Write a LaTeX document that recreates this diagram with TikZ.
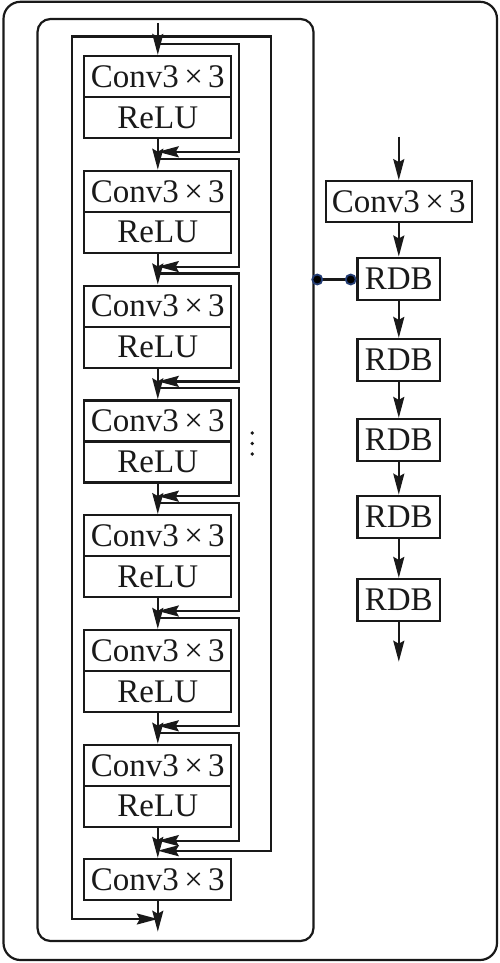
\documentclass[tikz,border=0pt]{standalone}
\usepackage{fontspec}
\setmainfont{Liberation Serif}
\usetikzlibrary{arrows.meta,calc}
\definecolor{ink}{RGB}{25,25,25}
\definecolor{navy}{RGB}{35,60,115}
\begin{document}
\begin{tikzpicture}[x=1pt,y=-1pt,
  >={Stealth[length=21pt,width=11pt,inset=3pt]},
  box/.style={draw=ink, line width=2.2pt, minimum height=41pt, inner sep=0pt,
    font=\fontsize{33}{36}\selectfont, text=ink},
  cbox/.style={box, minimum width=147pt},
  rdb/.style={box, minimum width=82.5pt, minimum height=42pt},
  wire/.style={draw=ink, line width=2.2pt},
  flow/.style={wire, ->},
  dotnode/.style={circle, fill=black, draw=navy, line width=1.8pt, minimum size=10pt, inner sep=0pt}]
\useasboundingbox (0,0) rectangle (500,963);

% frames
\draw[wire, rounded corners=17pt] (3.5,1.8) rectangle (497,960);
\draw[wire, rounded corners=13pt] (37.5,19) rectangle (313.5,941);

% left column blocks
\foreach \i in {1,...,7} {
  \pgfmathsetmacro\T{56+114.8*(\i-1)}
  \node[cbox] (c\i) at (157.8,\T+20.5) {Conv3\hspace{0.16em}×\hspace{0.16em}3};
  \node[cbox] (r\i) at (157.8,\T+61.5) {ReLU};
}
\node[cbox] (f) at (157.8,879.5) {Conv3\hspace{0.16em}×\hspace{0.16em}3};

% main flow
\coordinate (in) at (157.8,23);
\coordinate (out) at (157.8,931.7);
\draw[flow] (in) -- (c1.north);
\foreach \i [evaluate=\i as \j using int(\i+1)] in {1,...,6}
  \draw[flow] (r\i.south) -- (c\j.north);
\draw[flow] (r7.south) -- (f.north);
\draw[flow] (f.south) -- (out);

% local loops
\foreach \i in {1,...,7}
  \draw[flow] ([yshift=11pt]c\i.north) -- ([xshift=6.2pt,yshift=11pt]c\i.north east)
    -- ([xshift=6.2pt,yshift=-12.7pt]r\i.south east) -- ([yshift=-12.7pt]r\i.south);

% outer loops
\coordinate (tl) at (72,36.5);
\coordinate (tr) at (271,36.5);
\coordinate (jr) at (157.8,850.7);
\coordinate (jl) at (157.8,919);
\draw[flow, line cap=rect] (tl) -- (tr) |- (jr);
\draw[flow, line cap=rect] (tl) |- (jl);

% vertical dots
\foreach \y in {433,443.5,454} \fill[ink] (252.3,\y) circle (1.9pt);

% right chain
\node[box, minimum width=146.3pt] (rc) at (398.8,201.7) {Conv3\hspace{0.16em}×\hspace{0.16em}3};
\node[rdb] (b1) at (398.8,278.6) {RDB};
\node[rdb] (b2) at (398.8,360) {RDB};
\node[rdb] (b3) at (398.8,440) {RDB};
\node[rdb] (b4) at (398.8,516.7) {RDB};
\node[rdb] (b5) at (398.8,600) {RDB};
\coordinate (rin) at (398.8,136.7);
\coordinate (rout) at (398.8,661.7);
\draw[flow] (rin) -- (rc.north);
\draw[flow] (rc.south) -- (b1.north);
\draw[flow] (b1.south) -- (b2.north);
\draw[flow] (b2.south) -- (b3.north);
\draw[flow] (b3.south) -- (b4.north);
\draw[flow] (b4.south) -- (b5.north);
\draw[flow] (b5.south) -- (rout);

% connector dots
\node[dotnode] (d1) at (317.3,279.5) {};
\node[dotnode] (d2) at (350.7,279.5) {};
\draw[wire] (d1) -- (d2);
\end{tikzpicture}
\end{document}
